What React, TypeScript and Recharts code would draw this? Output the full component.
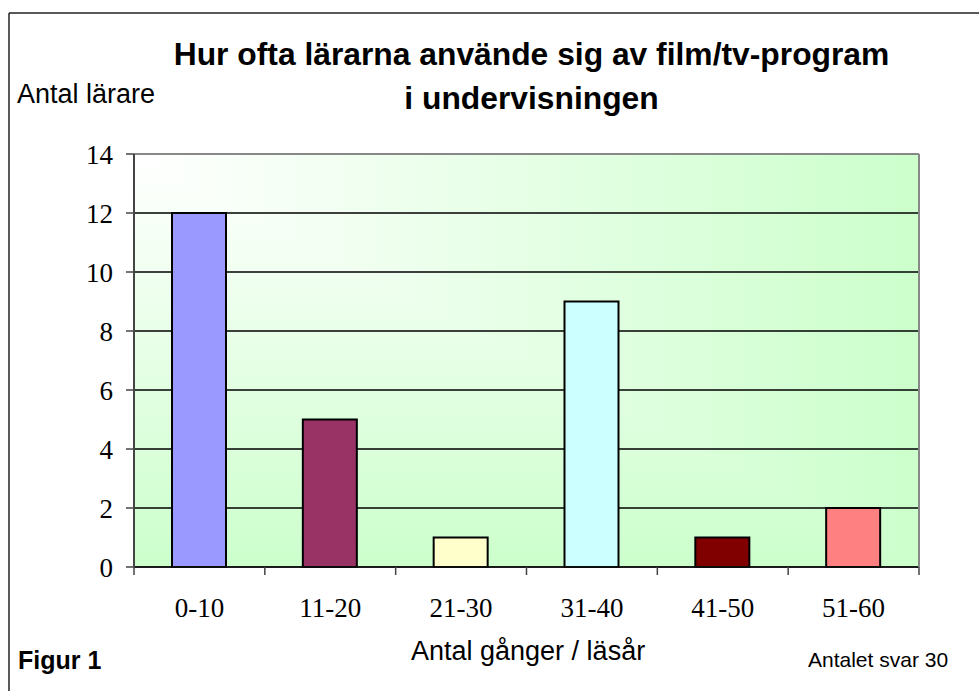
import { BarChart, Bar, Cell, CartesianGrid, XAxis, YAxis, ReferenceLine } from 'recharts';

const categories = ['0-10', '11-20', '21-30', '31-40', '41-50', '51-60'];
const teachers = [12, 5, 1, 9, 1, 2];
const barColors = ['#9999ff', '#993366', '#ffffcc', '#ccffff', '#800000', '#ff8080'];
const yTicks = [0, 2, 4, 6, 8, 10, 12, 14];

const W = 979;
const H = 691;
const PLOT_LEFT = 134;
const PLOT_RIGHT = 919;
const PLOT_TOP = 154;
const PLOT_BOTTOM = 567;

const sans = 'Liberation Sans, Arial, sans-serif';
const serif = 'Liberation Serif, Times New Roman, serif';

// x labels centred, tick marks between the categories (like the excel original)
const CategoryTick = (props: any) => {
    const { x, payload, index } = props;
    const band = (PLOT_RIGHT - PLOT_LEFT) / categories.length;
    const left = x - band / 2;
    return (
        <g>
            <line x1={left} x2={left} y1={PLOT_BOTTOM} y2={PLOT_BOTTOM + 8} stroke='#444' strokeWidth={1.5} />
            {index === categories.length - 1 &&
                <line x1={left + band} x2={left + band} y1={PLOT_BOTTOM} y2={PLOT_BOTTOM + 8} stroke='#444' strokeWidth={1.5} />}
            <text x={x} y={617} textAnchor='middle' fontFamily={serif} fontSize={27} fill='#000'>{payload.value}</text>
        </g>
    );
}

// "from corner" fill: white top-left, green towards right and bottom edge (darken = max of both)
const PlotBackground = () => (
    <svg width={W} height={H} style={{ position: 'absolute', left: 0, top: 0 }}>
        <defs>
            <linearGradient id='bgH' x1='0' y1='0' x2='1' y2='0'>
                <stop offset='0%' stopColor='#ffffff' />
                <stop offset='100%' stopColor='#ccffcc' />
            </linearGradient>
            <linearGradient id='bgV' x1='0' y1='0' x2='0' y2='1'>
                <stop offset='0%' stopColor='#ffffff' />
                <stop offset='100%' stopColor='#ccffcc' />
            </linearGradient>
        </defs>
        <g style={{ isolation: 'isolate' }}>
            <rect x={PLOT_LEFT} y={PLOT_TOP} width={PLOT_RIGHT - PLOT_LEFT} height={PLOT_BOTTOM - PLOT_TOP} fill='url(#bgH)' />
            <rect x={PLOT_LEFT} y={PLOT_TOP} width={PLOT_RIGHT - PLOT_LEFT} height={PLOT_BOTTOM - PLOT_TOP} fill='url(#bgV)'
                style={{ mixBlendMode: 'darken' }} />
        </g>
    </svg>
);

const App = () => {
    const data = categories.map((name, i) => ({ name, antal: teachers[i] }));

    return (
        <div style={{ position: 'absolute', left: 0, top: 0, width: W, height: H, background: '#fff', overflow: 'hidden' }}>
            <PlotBackground />
            <div style={{ position: 'absolute', left: 0, top: 0 }}>
                <BarChart width={W} height={H} data={data}
                    margin={{ top: PLOT_TOP, right: W - PLOT_RIGHT - 2, bottom: H - PLOT_BOTTOM - 30, left: PLOT_LEFT - 60 }}>
                    <CartesianGrid yAxisId='left' vertical={false} stroke='#000' strokeWidth={1.3} strokeOpacity={1} />
                    <XAxis dataKey='name' height={30} tickLine={false} axisLine={{ stroke: '#111', strokeWidth: 1.5 }}
                        tick={<CategoryTick />} interval={0} />
                    <YAxis yAxisId='left' width={60} domain={[0, 14]} ticks={yTicks} interval={0} tickSize={8} tickMargin={13}
                        axisLine={{ stroke: '#444', strokeWidth: 2 }} tickLine={{ stroke: '#444', strokeWidth: 1.5 }}
                        tick={{ fontFamily: serif, fontSize: 27, fill: '#000' }} />
                    <YAxis yAxisId='right' orientation='right' width={2} tick={false} tickLine={false}
                        axisLine={{ stroke: '#888', strokeWidth: 2 }} />
                    <ReferenceLine yAxisId='left' y={14} stroke='#888' strokeWidth={2} />
                    <Bar yAxisId='left' dataKey='antal' barSize={54} stroke='#000' strokeWidth={2} isAnimationActive={false}>
                        {data.map((d, i) => <Cell key={d.name} fill={barColors[i]} />)}
                    </Bar>
                </BarChart>
            </div>
            <svg width={W} height={H} style={{ position: 'absolute', left: 0, top: 0, pointerEvents: 'none' }}>
                <line x1={9} y1={13} x2={9} y2={H} stroke='#222' strokeWidth={1.5} />
                <line x1={9} y1={13} x2={W} y2={13} stroke='#222' strokeWidth={1.5} />
                <text x={531.5} y={65} textAnchor='middle' fontFamily={sans} fontWeight='bold' fontSize={31.8} fill='#000'>
                    Hur ofta lärarna använde sig av film/tv-program
                </text>
                <text x={531.5} y={109} textAnchor='middle' fontFamily={sans} fontWeight='bold' fontSize={31.8} fill='#000'>
                    i undervisningen
                </text>
                <text x={17} y={103} fontFamily={sans} fontSize={27} fill='#000'>Antal lärare</text>
                <text x={411} y={660} fontFamily={sans} fontSize={27} fill='#000'>Antal gånger / läsår</text>
                <text x={18} y={669} fontFamily={sans} fontWeight='bold' fontSize={25} fill='#000'>Figur 1</text>
                <text x={808} y={667} fontFamily={sans} fontSize={21} fill='#000'>Antalet svar 30</text>
            </svg>
        </div>
    );
}

export default App;
